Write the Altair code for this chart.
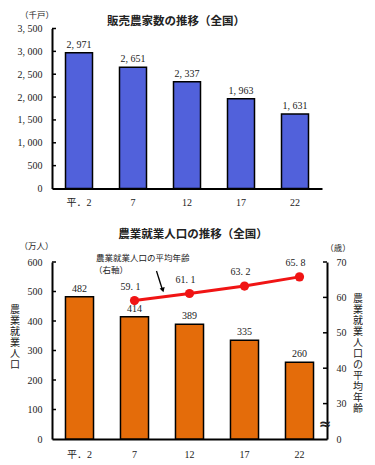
import altair as alt
import pandas as pd

# ---- data ----
years = ["平．2", "7", "12", "17", "22"]
households = [2971, 2651, 2337, 1963, 1631]          # 千戸
household_axis = [0, 500, 1000, 1500, 2000, 2500, 3000, 3500]
household_ticks = [500, 1000, 1500, 2000, 2500, 3000, 3500]

workers = [482, 414, 389, 335, 260]                   # 万人
worker_axis = [0, 100, 200, 300, 400, 500, 600]
worker_ticks = [100, 200, 300, 400, 500, 600]

age_years = ["7", "12", "17", "22"]
avg_age = [59.1, 61.1, 63.2, 65.8]                    # 歳
age_axis = [20, 30, 40, 50, 60, 70]
age_ticks = [30, 40, 50, 60, 70]

SERIF = "Liberation Serif, Noto Sans CJK JP"
JP = "Noto Sans CJK JP"
TXT = "#222222"

W1, H1 = 270, 160
W2, H2 = 275, 177

comma_expr = "replace(format(datum.value, ','), ',', ', ')"


def text_layer(s, x, y, size=10, weight="normal", align="center", font=JP, line_break=None):
    kw = dict(font=font, fontSize=size, fontWeight=weight, align=align, baseline="middle", color=TXT)
    if line_break:
        kw["lineBreak"] = line_break
        kw["lineHeight"] = 11
    return alt.Chart(pd.DataFrame({"t": [s]})).mark_text(**kw).encode(
        x=alt.value(x), y=alt.value(y), text="t:N")


# ---------------- top chart ----------------
df1 = pd.DataFrame({"year": years, "v": households})

x1 = alt.X("year:N",
           scale=alt.Scale(domain=years, paddingInner=0.5, paddingOuter=0.25),
           axis=alt.Axis(title=None, labelAngle=0, ticks=False, domainColor="black",
                         domainWidth=2, labelFont=SERIF, labelFontSize=10,
                         labelColor=TXT, labelPadding=9))
y1 = alt.Y("v:Q", scale=alt.Scale(domain=[0, 3500]),
           axis=alt.Axis(title=None, values=household_axis, ticks=False, grid=False,
                         domainColor="black", domainWidth=2, labelFont=SERIF,
                         labelFontSize=10, labelColor=TXT, labelPadding=10,
                         labelExpr=comma_expr))

bars1 = alt.Chart(df1).mark_bar(color="#5161DB", stroke="black", strokeWidth=1.5).encode(x=x1, y=y1)
labels1 = alt.Chart(df1).transform_calculate(
    t="replace(format(datum.v, ','), ',', ', ')"
).mark_text(font=SERIF, fontSize=10, baseline="bottom", dy=-3, color=TXT).encode(
    x=x1, y=y1, text="t:N")
ticks1 = alt.Chart(pd.DataFrame({"v": household_ticks})).mark_rule(
    color="black", strokeWidth=1.5).encode(x=alt.value(0), x2=alt.value(4), y=y1)

top = alt.layer(
    bars1, labels1, ticks1,
    text_layer("販売農家数の推移（全国）", 124, -6.5, size=11.5, weight="bold"),
    text_layer("（千戸）", -15, -13.5, size=8.5),
).properties(width=W1, height=H1)

# ---------------- bottom chart ----------------
df2 = pd.DataFrame({"year": years, "w": workers})
df3 = pd.DataFrame({"year": age_years, "age": avg_age})

x2 = alt.X("year:N",
           scale=alt.Scale(domain=years, paddingInner=0.49, paddingOuter=0.245),
           axis=alt.Axis(title=None, labelAngle=0, ticks=False, domainColor="black",
                         domainWidth=2, labelFont=SERIF, labelFontSize=10,
                         labelColor=TXT, labelPadding=10))
y2 = alt.Y("w:Q", scale=alt.Scale(domain=[0, 600]),
           axis=alt.Axis(title=None, values=worker_axis, ticks=False, grid=False,
                         domainColor="black", domainWidth=2, labelFont=SERIF,
                         labelFontSize=10, labelColor=TXT, labelPadding=10))
y3 = alt.Y("age:Q", scale=alt.Scale(domain=[20, 70]),
           axis=alt.Axis(title=None, orient="right", values=age_axis, ticks=False, grid=False,
                         domainColor="black", domainWidth=2, labelFont=SERIF,
                         labelFontSize=10, labelColor=TXT, labelPadding=9,
                         labelExpr="datum.value == 20 ? '0' : datum.label"))

bars2 = alt.Chart(df2).mark_bar(color="#E46C0A", stroke="black", strokeWidth=1.5).encode(x=x2, y=y2)
labels2 = alt.Chart(df2).mark_text(font=SERIF, fontSize=10, baseline="bottom", dy=-3,
                                   color=TXT).encode(x=x2, y=y2, text="w:Q")
ticks2 = alt.Chart(pd.DataFrame({"w": worker_ticks})).mark_rule(
    color="black", strokeWidth=1.5).encode(x=alt.value(0), x2=alt.value(4), y=y2)
left = alt.layer(bars2, labels2, ticks2)

line = alt.Chart(df3).mark_line(color="#F01414", strokeWidth=3).encode(x=x2, y=y3)
pts = alt.Chart(df3).mark_point(filled=True, color="#F01414", size=85, opacity=1).encode(x=x2, y=y3)
labels3 = alt.Chart(df3).transform_calculate(
    t="replace(format(datum.age, '.1f'), '.', '. ')"
).mark_text(font=SERIF, fontSize=10, baseline="middle", dx=-4, dy=-14, color=TXT).encode(
    x=x2, y=y3, text="t:N")
ticks3 = alt.Chart(pd.DataFrame({"age": age_ticks})).mark_rule(
    color="black", strokeWidth=1.5).encode(x=alt.value(W2 - 4), x2=alt.value(W2), y=y3)
right = alt.layer(line, pts, labels3, ticks3)

arrow = alt.Chart(pd.DataFrame({"a": [0]})).mark_rule(color="black", strokeWidth=1.3).encode(
    x=alt.value(104.5), y=alt.value(9), x2=alt.value(110.5), y2=alt.value(28))
arrow_head = alt.Chart(pd.DataFrame({"a": [0]})).mark_point(
    shape="triangle-down", filled=True, color="black", size=28, angle=343, opacity=1).encode(
    x=alt.value(110.8), y=alt.value(28))
brk = text_layer("≈", W2 - 2, 162, size=15, weight="bold", font="DejaVu Sans")

bottom = alt.layer(
    left, right,
    text_layer("農業就業人口の推移（全国）", 141, -27.5, size=11.5, weight="bold"),
    text_layer("（万人）", -15.5, -16, size=8.5),
    text_layer("（歳）", W2 + 11, -14.5, size=8.5),
    text_layer("農\n業\n就\n業\n人\n口", -37, 48, size=10, line_break="\n"),
    text_layer("農\n業\n就\n業\n人\n口\nの\n平\n均\n年\n齢", W2 + 31, 37, size=10, line_break="\n"),
    text_layer("農業就業人口の平均年齢", 44, -4.5, size=8.5, align="left"),
    text_layer("（右軸）", 42, 7.5, size=8.5, align="left"),
    arrow, arrow_head, brk,
).resolve_scale(y="independent").properties(width=W2, height=H2)

chart = alt.vconcat(top, bottom, spacing=20.5).properties(
    padding={"left": 2, "top": 2.5, "right": 0, "bottom": 0},
    background="white",
).configure_view(stroke=None)

chart.save("out.html", embed_options={"renderer": "svg", "actions": False})
